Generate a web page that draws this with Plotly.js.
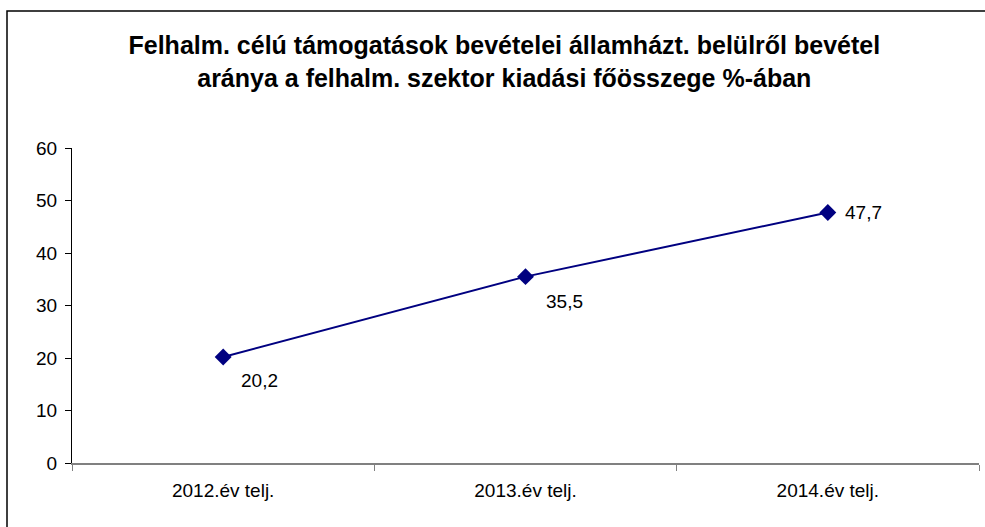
<!DOCTYPE html>
<html>
<head>
<meta charset="utf-8">
<script src="https://cdn.plot.ly/plotly-3.0.1.min.js"></script>
<style>html,body{margin:0;padding:0;background:#fff;}#chart{width:985px;height:527px;}</style>
</head>
<body>
<div id="chart"></div>
<script>
var categories = ['2012.év telj.', '2013.év telj.', '2014.év telj.'];
var values = [20.2, 35.5, 47.7];
var yTicks = [0, 10, 20, 30, 40, 50, 60];
var titleText = 'Felhalm. célú támogatások bevételei államházt. belülről bevétel<br>aránya a felhalm. szektor kiadási főösszege %-ában';

var labelShiftX = [16, 18, 15];
var labelShiftY = [-24, -25, 0];

var FONT = 'Liberation Sans, Arial, sans-serif';

var annotations = values.map(function (v, i) {
  return {
    x: categories[i], y: v, xref: 'x', yref: 'y',
    text: v.toFixed(1).replace('.', ','),
    showarrow: false, xanchor: 'left', yanchor: 'middle',
    xshift: labelShiftX[i], yshift: labelShiftY[i],
    font: {family: FONT, size: 19, color: '#000'}
  };
});

var trace = {
  x: categories, y: values, type: 'scatter', mode: 'lines+markers',
  line: {color: '#000080', width: 2},
  marker: {symbol: 'diamond', size: 13, color: '#000080'},
  hoverinfo: 'none', showlegend: false
};

var layout = {
  width: 985, height: 527,
  margin: {l: 72, r: 6, t: 148, b: 64},
  paper_bgcolor: '#fff', plot_bgcolor: '#fff',
  font: {family: FONT, size: 19, color: '#000'},
  title: {
    text: '<b>' + titleText + '</b>',
    font: {family: FONT, size: 25, color: '#000'},
    x: 0.512, xanchor: 'center', y: 0.897, yanchor: 'top'
  },
  xaxis: {
    type: 'category', range: [-0.5, 2.5], showgrid: false, zeroline: false,
    showline: true, linecolor: '#808080', linewidth: 2,
    ticks: 'outside', tickson: 'boundaries', ticklen: 6, tickcolor: '#808080', tickwidth: 1,
    ticklabelstandoff: 9,
    tickfont: {size: 19, color: '#000'}
  },
  yaxis: {
    range: [0, 60], tickvals: yTicks, ticktext: yTicks.map(String),
    showgrid: false, zeroline: false, showline: true, linecolor: '#000', linewidth: 1,
    ticks: 'outside', ticklen: 6, tickcolor: '#000', tickwidth: 1,
    ticklabelstandoff: 4,
    tickfont: {size: 19, color: '#000'}
  },
  annotations: annotations,
  shapes: [{
    type: 'rect', xref: 'paper', yref: 'paper',
    x0: -65 / 907, x1: 1 + 12 / 907, y0: -80 / 315, y1: 1 + 137 / 315,
    line: {color: '#000', width: 1.5}, fillcolor: 'rgba(0,0,0,0)'
  }]
};

Plotly.newPlot('chart', [trace], layout, {displayModeBar: false, staticPlot: true});
</script>
</body>
</html>
